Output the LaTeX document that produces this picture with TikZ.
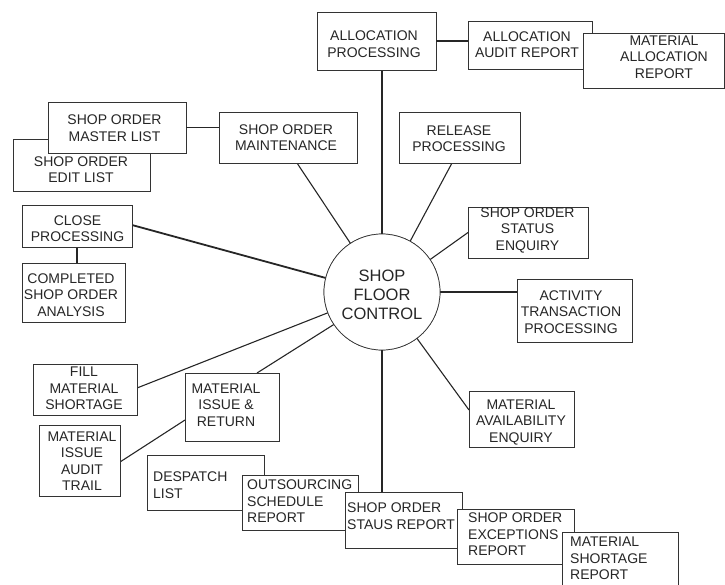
\documentclass[tikz,border=0pt]{standalone}
\usepackage{fontspec}
\setmainfont{Liberation Sans}
\usetikzlibrary{calc}
\begin{document}
\begin{tikzpicture}[x=1pt,y=-1pt,
  box/.style={draw=black!80, line width=0.9pt, fill=white, inner sep=0pt, outer sep=0pt},
  txt/.style={font=\fontsize{14}{16.5}\selectfont, text=black!85, inner sep=0pt, align=center},
  txtl/.style={txt, align=left, anchor=north west},
  bigtxt/.style={font=\fontsize{16.5}{19}\selectfont, text=black!85, inner sep=0pt, align=center},
  thk/.style={draw=black!85, line width=1.8pt},
  thn/.style={draw=black!85, line width=1.1pt},
  hub/.style={circle, draw=black!80, line width=0.7pt, fill=white, minimum size=116pt, inner sep=0pt, outer sep=0pt}
]
\useasboundingbox (0,0) rectangle (725,584);

% ---- box geometry (nodes) ----
\node[hub] (circ) at (382,292) {};
\node[box, minimum width=119pt, minimum height=58pt] (allocproc) at (376.5,41) {};
\node[box, minimum width=138pt, minimum height=51pt] (somaint) at (288,137.5) {};
\node[box, minimum width=121pt, minimum height=51pt] (release) at (459.5,137.5) {};
\node[box, minimum width=110pt, minimum height=42pt] (closeproc) at (77,226) {};
\node[box, minimum width=103pt, minimum height=59pt] (completed) at (73.5,292.5) {};
\node[box, minimum width=120pt, minimum height=51pt] (sostatusenq) at (528,232.5) {};
\node[box, minimum width=115pt, minimum height=63pt] (activity) at (574.5,310.5) {};
\node[box, minimum width=105pt, minimum height=56pt] (matavail) at (521.5,419) {};
\node[box, minimum width=104pt, minimum height=51pt] (fillmat) at (85,389.5) {};
\node[box, minimum width=94pt, minimum height=68pt] (matissue) at (232,407) {};
\node[box, minimum width=81pt, minimum height=71pt] (matissueaudit) at (79.5,460.5) {};

% ---- connectors ----
\draw[thk] (allocproc.south -| circ) -- (circ.north);
\draw[thn] ($(somaint.south west)+(78,0)$) -- (circ.123);
\draw[thn] ($(release.south west)+(53,0)$) -- (circ.61);
\draw[thn] (sostatusenq.west) -- (circ.34);
\draw[thk] (circ.east) -- (circ.east -| activity.west);
\draw[thn] (circ.-53) -- ($(matavail.north west)+(0,19)$);
\draw[thk] ($(closeproc.east)+(0,-1)$) -- (circ.166);
\draw[thk] (closeproc.south) -- (closeproc.south |- completed.north);
\draw[thn] ($(fillmat.east)+(0,-1.5)$) -- (circ.201);
\draw[thn] ($(matissue.north west)+(72,0)$) -- (circ.214);
\draw[thn] ($(matissueaudit.east)+(0,1.5)$) -- ($(matissue.west)+(0,13)$);

% ---- redraw boxes over connector ends ----
\node[hub] at (circ) {};
\node[bigtxt] at (382,294.5) {SHOP\\FLOOR\\CONTROL};

\node[box, minimum width=119pt, minimum height=58pt] at (allocproc) {};
\node[txt] at (374,44) {ALLOCATION\\PROCESSING};

\node[box, minimum width=124pt, minimum height=48pt] (allocaudit) at (530,45) {};
\node[txt] at (527,44.5) {ALLOCATION\\AUDIT REPORT};
\draw[thk] (allocproc.east) -- (allocproc.east -| allocaudit.west);

\node[box, minimum width=141pt, minimum height=55pt] (matalloc) at (653.5,60.5) {};
\node[txt] at (664,57) {MATERIAL\\ALLOCATION\\REPORT};

\node[box, minimum width=137pt, minimum height=52pt] (soedit) at (81.5,165) {};
\node[txt] at (81,169.5) {SHOP ORDER\\EDIT LIST};
\node[box, minimum width=138pt, minimum height=51pt] (somaster) at (117,127.5) {};
\node[txt] at (114.5,128) {SHOP ORDER\\MASTER LIST};
\draw[thk] (somaster.east) -- (somaster.east -| somaint.west);

\node[box, minimum width=138pt, minimum height=51pt] at (somaint) {};
\node[txt] at (286,137.5) {SHOP ORDER\\MAINTENANCE};

\node[box, minimum width=121pt, minimum height=51pt] at (release) {};
\node[txt] at (459,138.5) {RELEASE\\PROCESSING};

\node[box, minimum width=110pt, minimum height=42pt] at (closeproc) {};
\node[txt] at (77.5,228.5) {CLOSE\\PROCESSING};

\node[box, minimum width=103pt, minimum height=59pt] at (completed) {};
\node[txt] at (71,295) {COMPLETED\\SHOP ORDER\\ANALYSIS};

\node[box, minimum width=120pt, minimum height=51pt] at (sostatusenq) {};
\node[txt] at (527.5,230) {SHOP ORDER\\STATUS\\ENQUIRY};

\node[box, minimum width=115pt, minimum height=63pt] at (activity) {};
\node[txt] at (571,312) {ACTIVITY\\TRANSACTION\\PROCESSING};

\node[box, minimum width=105pt, minimum height=56pt] at (matavail) {};
\node[txt] at (521,422) {MATERIAL\\AVAILABILITY\\ENQUIRY};

\node[box, minimum width=104pt, minimum height=51pt] at (fillmat) {};
\node[txt] at (84,388.5) {FILL\\MATERIAL\\SHORTAGE};

\node[box, minimum width=94pt, minimum height=68pt] at (matissue) {};
\node[txt] at (226,405) {MATERIAL\\ISSUE \&\\RETURN};

\node[box, minimum width=81pt, minimum height=71pt] at (matissueaudit) {};
\node[txt] at (82,461) {MATERIAL\\ISSUE\\AUDIT\\TRAIL};

\node[box, minimum width=117pt, minimum height=55pt] (despatch) at (205.5,482.5) {};
\node[txtl] at (153,472) {DESPATCH\\LIST};

\node[box, minimum width=116pt, minimum height=55pt] (outsourcing) at (300,502.5) {};
\node[txtl] at (247,480) {OUTSOURCING\\SCHEDULE\\REPORT};

\node[box, minimum width=117pt, minimum height=56pt] (sostaus) at (403.5,520) {};
\node[txtl] at (347,503) {SHOP ORDER\\STAUS REPORT};
\draw[thk] (circ.south) -- (circ.south |- sostaus.north);

\node[box, minimum width=117pt, minimum height=55pt] (soexcept) at (515.5,536.5) {};
\node[txtl] at (468,513) {SHOP ORDER\\EXCEPTIONS\\REPORT};

\node[box, minimum width=116pt, minimum height=68pt] (matshort) at (620,566) {};
\node[txtl] at (570,537) {MATERIAL\\SHORTAGE\\REPORT};
\end{tikzpicture}
\end{document}
